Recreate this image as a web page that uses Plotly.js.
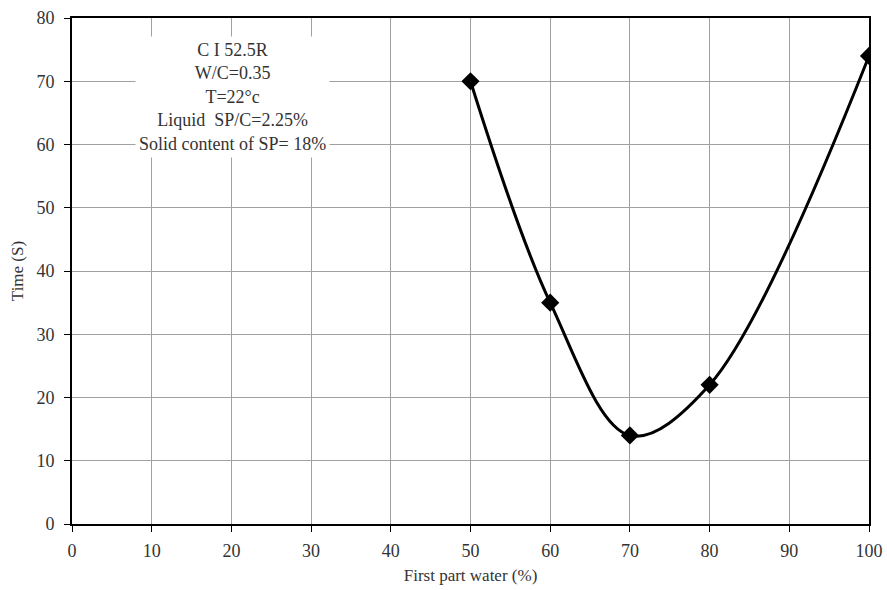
<!DOCTYPE html>
<html>
<head>
<meta charset="utf-8">
<script src="https://cdn.plot.ly/plotly-3.0.1.min.js"></script>
<style>html,body{margin:0;padding:0;background:#fff;}#chart{width:887px;height:590px;}</style>
</head>
<body>
<div id="chart"></div>
<script>
const firstPartWater = [50, 60, 70, 80, 100];
const timeS = [70, 35, 14, 22, 74];
const xTicks = [0, 10, 20, 30, 40, 50, 60, 70, 80, 90, 100];
const yTicks = [0, 10, 20, 30, 40, 50, 60, 70, 80];
const infoLines = ["C I 52.5R", "W/C=0.35", "T=22°c", "Liquid  SP/C=2.25%", "Solid content of SP= 18%"];

const fam = "Liberation Serif, Times New Roman, serif";
const tickFont = {family: fam, color: "#333", size: 18};
const titleFont = {family: fam, color: "#333", size: 17};

Plotly.newPlot("chart", [{
  x: firstPartWater,
  y: timeS,
  type: "scatter",
  mode: "lines+markers",
  line: {shape: "spline", smoothing: 1, color: "#000", width: 3},
  marker: {symbol: "diamond", size: 14, color: "#000"},
  showlegend: false
}], {
  width: 887, height: 590,
  margin: {l: 72, r: 18, t: 18, b: 66},
  paper_bgcolor: "#fff", plot_bgcolor: "#fff",
  font: {family: fam, color: "#333", size: 18},
  xaxis: {
    range: [0, 100], tickvals: xTicks, ticktext: xTicks.map(String),
    showgrid: true, gridcolor: "#a0a0a0", gridwidth: 1,
    showline: true, linecolor: "#000", linewidth: 2, mirror: true,
    ticks: "outside", ticklen: 6, tickcolor: "#000", zeroline: false,
    tickfont: tickFont, ticklabelstandoff: 3,
    title: {text: "First part water (%)", font: titleFont, standoff: 10}
  },
  yaxis: {
    range: [0, 80], tickvals: yTicks, ticktext: yTicks.map(String),
    showgrid: true, gridcolor: "#a0a0a0", gridwidth: 1,
    showline: true, linecolor: "#000", linewidth: 2, mirror: true,
    ticks: "outside", ticklen: 6, tickcolor: "#000", zeroline: false,
    tickfont: tickFont, ticklabelstandoff: 6,
    title: {text: "Time (S)", font: titleFont, standoff: 8}
  },
  annotations: [{
    xref: "paper", yref: "paper", x: 0.202, y: 0.843,
    xanchor: "center", yanchor: "middle",
    text: infoLines.join("<br>"), showarrow: false, align: "center",
    font: {family: fam, size: 18, color: "#333"},
    bgcolor: "#fff", borderpad: 3
  }]
}, {displayModeBar: false, staticPlot: true});
</script>
</body>
</html>
